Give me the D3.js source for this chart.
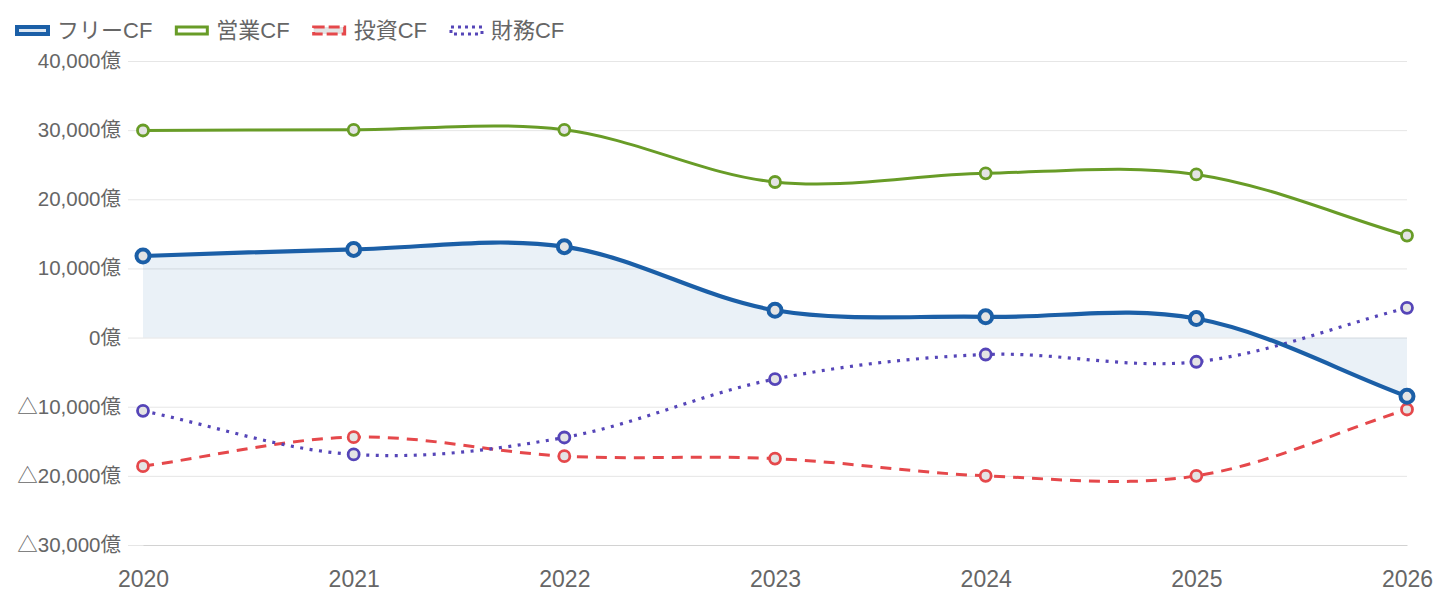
<!DOCTYPE html>
<html>
<head>
<meta charset="utf-8">
<script src="https://cdn.jsdelivr.net/npm/d3@7"></script>
<style>
  html, body { margin: 0; padding: 0; background: #fff; }
  svg text { font-family: "Liberation Sans", Arial, "Noto Sans CJK JP", sans-serif; fill: #666; }
</style>
</head>
<body>
<div class="canvas"></div>
<script>
// values (億円)
const years = ["2020", "2021", "2022", "2023", "2024", "2025", "2026"];
const freeCF = [11800, 12750, 13150, 3950, 3000, 2750, -8500];
const operatingCF = [29950, 30050, 30050, 22500, 23750, 23600, 14750];
const investingCF = [-18600, -14400, -17150, -17500, -20000, -20000, -10400];
const financingCF = [-10600, -16900, -14450, -6000, -2450, -3500, 4300];
const yTicks = [40000, 30000, 20000, 10000, 0, -10000, -20000, -30000];

const seriesNames = ["フリーCF", "営業CF", "投資CF", "財務CF"];
const seriesColors = ["#1b5fa7", "#689c27", "#e5484b", "#5545b8"];

const svgWidth = 1440;
const svgHeight = 600;
const margin = {top: 61, right: 33, bottom: 55, left: 143};
const graphWidth = svgWidth - margin.left - margin.right;
const graphHeight = svgHeight - margin.top - margin.bottom;

const svg = d3.select('.canvas')
  .append('svg')
    .attr('width', svgWidth)
    .attr('height', svgHeight);

const graph = svg.append('g')
  .attr('transform', `translate(${margin.left},${margin.top})`);

const x = d3.scalePoint()
  .domain(years)
  .range([0, graphWidth]);

const y = d3.scaleLinear()
  .domain([-30000, 40000])
  .range([graphHeight, 0]);

// same kind of bezier the chart library uses
function splinePath(pts, t) {
  const cps = pts.map((cur, i) => {
    const prev = pts[i-1] || cur, next = pts[i+1] || cur;
    const d01 = Math.hypot(cur[0]-prev[0], cur[1]-prev[1]);
    const d12 = Math.hypot(next[0]-cur[0], next[1]-cur[1]);
    const s01 = (d01+d12) ? d01/(d01+d12) : 0;
    const s12 = (d01+d12) ? d12/(d01+d12) : 0;
    const fa = t*s01, fb = t*s12;
    return {
      p: [cur[0] - fa*(next[0]-prev[0]), cur[1] - fa*(next[1]-prev[1])],
      n: [cur[0] + fb*(next[0]-prev[0]), cur[1] + fb*(next[1]-prev[1])]
    };
  });
  const p = d3.path();
  p.moveTo(pts[0][0], pts[0][1]);
  for (let i = 1; i < pts.length; i++) {
    p.bezierCurveTo(cps[i-1].n[0], cps[i-1].n[1], cps[i].p[0], cps[i].p[1], pts[i][0], pts[i][1]);
  }
  return p.toString();
}
const TENSION = 0.34;

// y grid + labels (negatives written with △)
const fmt = v => (v < 0 ? "△" + d3.format(",")(-v) : d3.format(",")(v)) + "億";
const yAxisGroup = graph.append("g")
  .call(d3.axisLeft(y).tickValues(yTicks).tickSize(-graphWidth - 15).tickFormat(fmt))
  .attr("transform", "translate(-15,0)");
yAxisGroup.select(".domain").remove();
yAxisGroup.selectAll(".tick line").attr("stroke", "#e6e6e6").attr("x1", 0);
yAxisGroup.selectAll(".tick text")
  .attr("x", -7)
  .style("font-size", "20.5px")
  .attr("fill", "#666");

// x axis
const xAxisGroup = graph.append("g")
  .attr("transform", `translate(0,${graphHeight})`)
  .call(d3.axisBottom(x).tickSize(0).tickPadding(26));
xAxisGroup.select(".domain").attr("stroke", "#d2d2d2");
xAxisGroup.selectAll("text").style("font-size", "23px").attr("fill", "#666");

const all = [freeCF, operatingCF, investingCF, financingCF];
const toPts = vals => vals.map((v, i) => [x(years[i]), y(v)]);

// fill under free CF down to zero
const freePts = toPts(freeCF);
graph.append("path")
  .attr("d", splinePath(freePts, TENSION) + `L${freePts[freePts.length-1][0]},${y(0)}L${freePts[0][0]},${y(0)}Z`)
  .attr("fill", "rgba(27,95,167,0.09)");

const widths = [4.2, 3, 3, 3.2];
const dashes = [null, null, "11,8", "3,6.5"];

// draw lines back to front
[1, 2, 3, 0].forEach(k => {
  graph.append("path")
    .attr("d", splinePath(toPts(all[k]), TENSION))
    .attr("fill", "none")
    .attr("stroke", seriesColors[k])
    .attr("stroke-width", widths[k])
    .attr("stroke-dasharray", dashes[k]);
});

[1, 2, 3, 0].forEach(k => {
  graph.selectAll(null)
    .data(all[k])
    .enter()
    .append("circle")
      .attr("cx", (d, i) => x(years[i]))
      .attr("cy", d => y(d))
      .attr("r", k === 0 ? 6.5 : 5.5)
      .attr("fill", "#e4e4e4")
      .attr("stroke", seriesColors[k])
      .attr("stroke-width", k === 0 ? 4 : 2.8);
});

// legend
const legendFill = ["rgba(27,95,167,0.15)", "#fff", "#e4e4e4", "#fff"];
let lx = 17;
seriesNames.forEach((name, k) => {
  const g = svg.append("g").attr("transform", `translate(${lx},25)`);
  g.append("rect")
    .attr("x", 0).attr("y", 2)
    .attr("width", 31).attr("height", 7)
    .attr("fill", legendFill[k])
    .attr("stroke", seriesColors[k])
    .attr("stroke-width", k === 0 ? 4 : 3)
    .attr("stroke-dasharray", k === 2 ? "11,4" : (k === 3 ? "3,4" : null));
  const t = g.append("text")
    .attr("x", 40).attr("y", 5)
    .attr("dy", "0.35em")
    .style("font-size", "22px")
    .attr("fill", "#666")
    .text(name);
  lx += 40 + t.node().getComputedTextLength() + 24;
});
</script>
</body>
</html>
